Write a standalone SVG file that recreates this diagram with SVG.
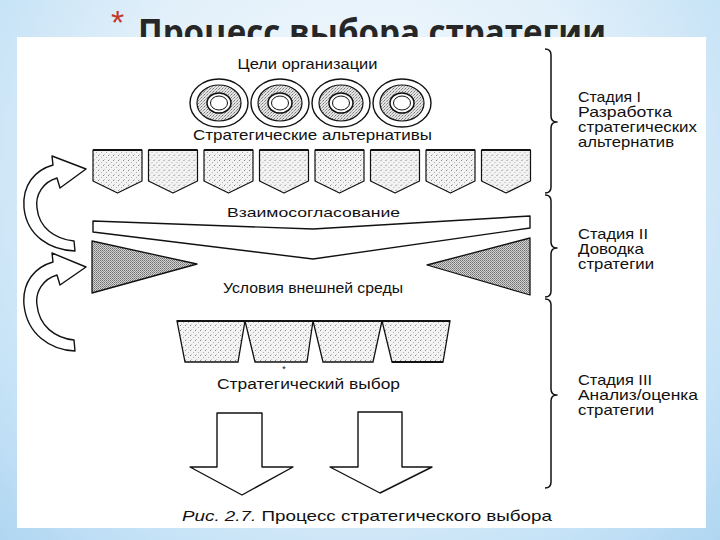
<svg xmlns="http://www.w3.org/2000/svg" width="720" height="540" viewBox="0 0 720 540">
<defs>
<radialGradient id="bg" cx="360" cy="180" r="560" gradientUnits="userSpaceOnUse">
<stop offset="0" stop-color="#f6fafd"/>
<stop offset="0.45" stop-color="#e2f0fa"/>
<stop offset="0.75" stop-color="#c3e1f6"/>
<stop offset="1" stop-color="#a4d0ef"/>
</radialGradient>
<pattern id="lt" width="5" height="5" patternUnits="userSpaceOnUse">
<rect width="5" height="5" fill="#f3f3f3"/>
<rect x="0" y="0" width="1" height="1" fill="#8a8a8a"/>
<rect x="3" y="2" width="1" height="1" fill="#b0b0b0"/>
<rect x="1" y="4" width="1" height="1" fill="#c8c8c8"/>
</pattern>
<pattern id="md" width="3" height="3" patternUnits="userSpaceOnUse">
<rect width="3" height="3" fill="#e4e4e4"/>
<rect x="0" y="0" width="1" height="1" fill="#7a7a7a"/>
<rect x="2" y="1" width="1" height="1" fill="#9a9a9a"/>
<rect x="1" y="2" width="1" height="1" fill="#b4b4b4"/>
</pattern>
<pattern id="dk" width="2" height="2" patternUnits="userSpaceOnUse">
<rect width="2" height="2" fill="#d4d4d4"/>
<rect x="0" y="0" width="1" height="1" fill="#6e6e6e"/>
<rect x="1" y="1" width="1" height="1" fill="#8c8c8c"/>
</pattern>
<g id="ring">
<ellipse rx="29" ry="24" fill="#fff" stroke="#111" stroke-width="1.4"/>
<ellipse rx="22" ry="18" fill="url(#md)" stroke="#111" stroke-width="1.2"/>
<ellipse rx="12" ry="10" fill="#fff" stroke="#111" stroke-width="1.5"/>
<ellipse rx="8.5" ry="7" fill="#fff" stroke="#111" stroke-width="1"/>
</g>
<g id="shield">
<polygon points="0,0 49,0 49,31 24.5,43 0,31" fill="url(#lt)" stroke="#111" stroke-width="1.2" stroke-linejoin="round"/>
<line x1="0" y1="0" x2="49" y2="0" stroke="#111" stroke-width="2.2"/>
</g>
</defs>
<style>
.t{font-family:"Liberation Sans",Arial,sans-serif;fill:#111}
.ln{fill:none;stroke:#111;stroke-width:1.5;stroke-linejoin:round}
.blk{fill:#fff;stroke:#111;stroke-width:1.4;stroke-linejoin:round}
</style>

<rect x="0" y="0" width="720" height="540" fill="url(#bg)"/>
<g id="title">
<text x="111" y="34" font-family="'Liberation Sans',Arial,sans-serif" font-size="34" fill="#c0392b">*</text>
<text x="138" y="45" font-family="'Open Sans','DejaVu Sans',sans-serif" font-weight="bold" font-size="35" fill="#262626" textLength="468" lengthAdjust="spacingAndGlyphs">Процесс выбора стратегии</text>
</g>
<rect x="17" y="37" width="689" height="491" fill="#fff"/>

<g id="goals">
<text class="t" x="307.5" y="69" font-size="14" text-anchor="middle" textLength="140" lengthAdjust="spacingAndGlyphs">Цели организации</text>
</g>
<g id="circles">
<use href="#ring" x="219" y="103"/>
<use href="#ring" x="280" y="103"/>
<use href="#ring" x="341" y="103"/>
<use href="#ring" x="402" y="103"/>
</g>
<g id="alternatives">
<text class="t" x="312.5" y="140" font-size="15" text-anchor="middle" textLength="239" lengthAdjust="spacingAndGlyphs">Стратегические альтернативы</text>
<use href="#shield" x="93" y="150"/>
<use href="#shield" x="148.5" y="150"/>
<use href="#shield" x="204" y="150"/>
<use href="#shield" x="259.5" y="150"/>
<use href="#shield" x="315" y="150"/>
<use href="#shield" x="370.5" y="150"/>
<use href="#shield" x="426" y="150"/>
<use href="#shield" x="481.5" y="150"/>
</g>
<g id="coordination">
<text class="t" x="313.5" y="217" font-size="13" text-anchor="middle" textLength="173" lengthAdjust="spacingAndGlyphs">Взаимосогласование</text>
<polygon class="blk" points="93,221 313,229 530,216 530,228 313,259 93,232"/>
</g>
<g id="environment">
<polygon points="92,241 197,264 92,293" fill="url(#dk)" stroke="#111" stroke-width="1.3" stroke-linejoin="round"/>
<polygon points="530,238 427,265 530,295" fill="url(#dk)" stroke="#111" stroke-width="1.3" stroke-linejoin="round"/>
<text class="t" x="313" y="293" font-size="14" text-anchor="middle" textLength="180" lengthAdjust="spacingAndGlyphs">Условия внешней среды</text>
</g>
<g id="choice">
<polygon points="177,321 245,321 238,362 185,362" fill="url(#lt)" stroke="#111" stroke-width="1.3"/>
<polygon points="245,321 313,321 307,362 255,362" fill="url(#lt)" stroke="#111" stroke-width="1.3"/>
<polygon points="313,321 382,321 373,362 323,362" fill="url(#lt)" stroke="#111" stroke-width="1.3"/>
<polygon points="382,321 450,321 443,362 392,362" fill="url(#lt)" stroke="#111" stroke-width="1.3"/>
<line x1="177" y1="321" x2="450" y2="321" stroke="#111" stroke-width="2"/>
<line x1="392" y1="362" x2="443" y2="362" stroke="#111" stroke-width="2"/>
<text class="t" x="284" y="372" font-size="9" text-anchor="middle">*</text>
<text class="t" x="308.5" y="389" font-size="14" text-anchor="middle" textLength="183" lengthAdjust="spacingAndGlyphs">Стратегический выбор</text>
</g>

<g id="connectors">
<path class="blk" d="M75,251 C50,250 27,236 24,208 C22,185 35,170 53,165 L52,156 L86,169 L60,188 L57,178 C43,182 35,195 37,208 C39,228 55,239 74,241 Z"/>
<path class="blk" d="M75,351 C50,350 27,334 24,305 C22,282 35,267 53,262 L52,253 L86,267 L60,285 L57,275 C43,279 35,292 37,305 C39,326 55,338 74,340 Z"/>
<polygon class="blk" points="217,413 262,413 262,467 293,467 242,495 190,467 217,467"/>
<polygon class="blk" points="358,412 402,412 402,467 432,467 380,493 330,467 358,467"/>
</g>

<g id="stage1">
<path class="ln" d="M545,49 Q551,49 551,55 L551,116 Q551,122 557,122 Q551,122 551,128 L551,187 Q551,193 545,193"/>
<text class="t" font-size="14.5"><tspan x="578" y="102" textLength="63" lengthAdjust="spacingAndGlyphs">Стадия I</tspan><tspan x="578" y="117" textLength="94" lengthAdjust="spacingAndGlyphs">Разработка</tspan><tspan x="578" y="132" textLength="119" lengthAdjust="spacingAndGlyphs">стратегических</tspan><tspan x="578" y="147" textLength="96" lengthAdjust="spacingAndGlyphs">альтернатив</tspan></text>
</g>
<g id="stage2">
<path class="ln" d="M545,195 Q551,195 551,201 L551,242 Q551,248 557,248 Q551,248 551,254 L551,291 Q551,297 545,297"/>
<text class="t" font-size="14.5"><tspan x="578" y="239" textLength="70" lengthAdjust="spacingAndGlyphs">Стадия II</tspan><tspan x="578" y="254" textLength="66" lengthAdjust="spacingAndGlyphs">Доводка</tspan><tspan x="578" y="269" textLength="76" lengthAdjust="spacingAndGlyphs">стратегии</tspan></text>
</g>
<g id="stage3">
<path class="ln" d="M545,299 Q551,299 551,305 L551,389 Q551,395 557,395 Q551,395 551,401 L551,482 Q551,488 545,488"/>
<text class="t" font-size="14.5"><tspan x="578" y="385" textLength="74" lengthAdjust="spacingAndGlyphs">Стадия III</tspan><tspan x="578" y="400" textLength="120" lengthAdjust="spacingAndGlyphs">Анализ/оценка</tspan><tspan x="578" y="415" textLength="76" lengthAdjust="spacingAndGlyphs">стратегии</tspan></text>
</g>
<g id="caption">
<text class="t" x="182" y="521" font-size="15" textLength="370" lengthAdjust="spacingAndGlyphs"><tspan font-style="italic">Рис. 2.7.</tspan> Процесс стратегического выбора</text>
</g>
</svg>
